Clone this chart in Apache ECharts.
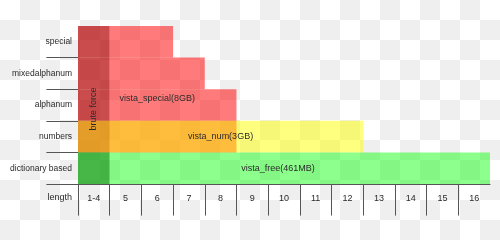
<!DOCTYPE html>
<html><head><meta charset="utf-8">
<script src="https://cdn.jsdelivr.net/npm/echarts@6/dist/echarts.min.js"></script>
<style>
html,body{margin:0;padding:0;background:#fff;}
#chart{width:500px;height:240px;background:repeating-conic-gradient(#efefef 0 25%, #ffffff 0 50%) 0 0/40px 40px;}
</style></head><body><div id="chart"></div>
<script>
// ---- data ----
const columns = ['1-4','5','6','7','8','9','10','11','12','13','14','15','16'];
const rows = ['dictionary based','numbers','alphanum','mixedalphanum','special'];
const xAxisTitle = 'length';

const bruteForceColumn = '1-4';
const bruteForceLabel = 'brute force';

const vistaSpecialRows = ['numbers','alphanum','mixedalphanum','special'];
const vistaSpecialLast = ['8','8','7','6'];
const vistaSpecialLabel = 'vista_special(8GB)';

const vistaNumRows = ['numbers'];
const vistaNumLast = ['12'];
const vistaNumLabel = 'vista_num(3GB)';

const vistaFreeRows = ['dictionary based'];
const vistaFreeLast = ['16'];
const vistaFreeLabel = 'vista_free(461MB)';

// ---- build ----
const FONT = 'Liberation Sans, Arial, sans-serif';
const TXT = '#2a2a2a';
const LINE = '#555';
const bruteEnd = columns.indexOf(bruteForceColumn) + 1;

function layerData(rs, lasts) {
  return rs.map((r, i) => [rows.indexOf(r), columns.indexOf(lasts[i]) + 1]);
}

function makeLayer(name, data, light, dark) {
  return {
    type: 'custom', name, data, z: 2,
    renderItem(params, api) {
      const row = api.value(0), end = api.value(1);
      const a = api.coord([0, row]);
      const b = api.coord([bruteEnd, row + 1]);
      const c = api.coord([end, row + 1]);
      return {
        type: 'group',
        children: [
          { type: 'rect', shape: { x: a[0], y: b[1], width: b[0] - a[0], height: a[1] - b[1] }, style: { fill: dark } },
          { type: 'rect', shape: { x: b[0], y: b[1], width: c[0] - b[0], height: a[1] - b[1] }, style: { fill: light } }
        ]
      };
    }
  };
}

function makeLabel(text, point, opts) {
  opts = opts || {};
  return {
    type: 'custom', data: [point], z: 5, silent: true,
    renderItem(params, api) {
      const p = api.coord([api.value(0), api.value(1)]);
      return {
        type: 'text',
        x: p[0] + (opts.dx || 0), y: p[1] + (opts.dy || 0),
        rotation: opts.rotation || 0,
        style: { text, fill: TXT, font: '9px ' + FONT, align: 'center', verticalAlign: 'middle' }
      };
    }
  };
}

const specialData = layerData(vistaSpecialRows, vistaSpecialLast);
const numData = layerData(vistaNumRows, vistaNumLast);
const freeData = layerData(vistaFreeRows, vistaFreeLast);
const maxEnd = d => Math.max.apply(null, d.map(x => x[1]));

const option = {
  backgroundColor: 'transparent',
  animation: false,
  grid: { left: 78, right: 10, top: 26, bottom: 56 },
  xAxis: {
    type: 'value', min: 0, max: columns.length,
    axisLine: { show: true, lineStyle: { color: LINE } },
    axisTick: { show: true, length: 31.6, customValues: columns.map((c, i) => i), lineStyle: { color: LINE } },
    axisLabel: { customValues: columns.map((c, i) => i + 0.5), formatter: v => columns[Math.floor(v)], margin: 10, fontSize: 9, color: TXT, fontFamily: FONT },
    splitLine: { show: false },
    name: xAxisTitle, nameLocation: 'start', nameGap: 6,
    nameTextStyle: { fontSize: 9, color: TXT, fontFamily: FONT, verticalAlign: 'top', align: 'right', padding: [9, 0, 0, 0] }
  },
  yAxis: {
    type: 'value', min: 0, max: rows.length,
    axisLine: { show: false },
    axisTick: { show: true, length: 31.6, customValues: rows.map((r, i) => i), lineStyle: { color: LINE } },
    axisLabel: { customValues: rows.map((r, i) => i + 0.5), formatter: v => rows[Math.floor(v)], margin: 6, fontSize: 8.5, color: TXT, fontFamily: FONT },
    splitLine: { show: false }
  },
  series: [
    makeLayer('vista_special', specialData, 'rgba(255,0,0,0.52)', 'rgba(180,0,0,0.7)'),
    makeLayer('vista_num', numData, 'rgba(255,255,0,0.5)', 'rgba(255,245,0,0.48)'),
    makeLayer('vista_free', freeData, 'rgba(0,255,0,0.45)', 'rgba(0,156,0,0.72)'),
    makeLabel(vistaSpecialLabel, [maxEnd(specialData) / 2, rows.indexOf('alphanum') + 0.5], { dy: -6 }),
    makeLabel(vistaNumLabel, [maxEnd(numData) / 2, rows.indexOf('numbers') + 0.5]),
    makeLabel(vistaFreeLabel, [maxEnd(freeData) / 2, rows.indexOf('dictionary based') + 0.5], { dx: -6 }),
    makeLabel(bruteForceLabel, [bruteEnd / 2, rows.length / 2], { rotation: Math.PI / 2, dy: 4 })
  ]
};

const chart = echarts.init(document.getElementById('chart'), null, { renderer: 'canvas' });
chart.setOption(option);
</script></body></html>
